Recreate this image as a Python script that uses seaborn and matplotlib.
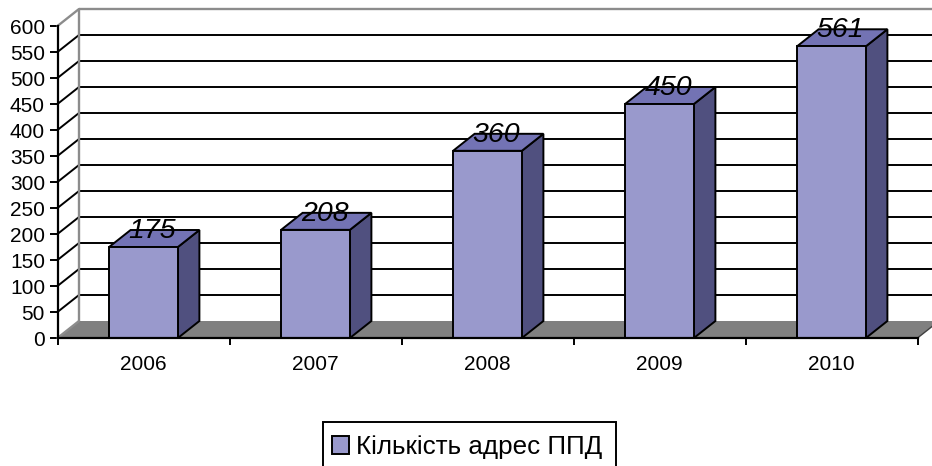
import matplotlib
matplotlib.use("Agg")
import matplotlib.pyplot as plt
import pandas as pd
import seaborn as sns
from matplotlib.patches import Polygon, Rectangle
from matplotlib.transforms import Affine2D

years = ["2006", "2007", "2008", "2009", "2010"]
values = [175, 208, 360, 450, 561]
series_name = "Кількість адрес ППД"
y_ticks = list(range(0, 601, 50))

FRONT = "#9999CC"
TOP = "#7373B4"
SIDE = "#50507F"
FLOOR = "#808080"
WALL = "#8C8C8C"
INK = "#000000"
DX, DY = 21.5, 17  # depth of the pseudo-3D box, in pixels
LW = 1.4

sns.set_theme(style="white")
plt.rcParams["font.family"] = ["Liberation Sans", "DejaVu Sans"]

W, H = 932, 466
fig = plt.figure(figsize=(W / 100, H / 100), dpi=100, facecolor="white")
ax = fig.add_axes([57.5 / W, (H - 338) / H, 860 / W, 312 / H])
ax.patch.set_visible(False)

df = pd.DataFrame({"year": years, "value": values})
sns.barplot(data=df, x="year", y="value", order=years, color=FRONT, saturation=1,
            width=0.4, edgecolor=INK, linewidth=LW, label=series_name, ax=ax, zorder=6)

ax.set_xlim(-0.5, len(years) - 0.5)
ax.set_ylim(0, 600)
ax.set_xlabel("")
ax.set_ylabel("")

data = ax.transData
back = data + Affine2D().translate(DX, DY)
x0, x1 = ax.get_xlim()


def seg(xs, ys, trans, color, z, lw=LW):
    ax.plot(xs, ys, transform=trans, color=color, lw=lw, clip_on=False, zorder=z,
            solid_capstyle="butt")


to_disp = lambda x, y, shift=False: (back if shift else data).transform((x, y))
floor = [to_disp(x0, 0), to_disp(x1, 0), to_disp(x1, 0, True), to_disp(x0, 0, True)]
ax.add_patch(Polygon(floor, closed=True, transform=None, facecolor=FLOOR, edgecolor="none",
                     clip_on=False, zorder=1))

for v in y_ticks[1:-1]:
    seg([x0, x1], [v, v], back, INK, 2)
    a, b = to_disp(x0, v), to_disp(x0, v, True)
    ax.plot([a[0], b[0]], [a[1], b[1]], transform=None, color=INK, lw=LW, clip_on=False, zorder=2)
seg([x0, x1], [600, 600], back, WALL, 2.5, 1.7)
seg([x0, x0], [0, 600], back, WALL, 2.5, 1.7)
for v in (0, 600):
    a, b = to_disp(x0, v), to_disp(x0, v, True)
    ax.plot([a[0], b[0]], [a[1], b[1]], transform=None, color=WALL, lw=1.7, clip_on=False, zorder=2.5)
a, b = to_disp(x1, 0), to_disp(x1, 0, True)
ax.plot([a[0], b[0]], [a[1], b[1]], transform=None, color="#404040", lw=1, clip_on=False, zorder=2.5)

for patch, val in zip(ax.patches, values):
    l, r = patch.get_x(), patch.get_x() + patch.get_width()
    side = [to_disp(r, 0), to_disp(r, val), to_disp(r, val, True), to_disp(r, 0, True)]
    top = [to_disp(l, val), to_disp(r, val), to_disp(r, val, True), to_disp(l, val, True)]
    ax.add_patch(Polygon(side, closed=True, transform=None, facecolor=SIDE, edgecolor=INK,
                         lw=LW, clip_on=False, zorder=5))
    ax.add_patch(Polygon(top, closed=True, transform=None, facecolor=TOP, edgecolor=INK,
                         lw=LW, clip_on=False, zorder=5))
    ax.annotate(str(val), xy=((l + r) / 2, val), xytext=(9, 16), textcoords="offset pixels",
                ha="center", va="center", fontsize=20.5, style="italic", color=INK, zorder=8)

for name in ("top", "right"):
    ax.spines[name].set_visible(False)
for name in ("left", "bottom"):
    ax.spines[name].set_color(INK)
    ax.spines[name].set_linewidth(LW + 0.2)
    ax.spines[name].set_zorder(7)
ax.set_yticks(y_ticks)
ax.set_xticks([i - 0.5 for i in range(len(years) + 1)], minor=True)
ax.tick_params(axis="x", which="minor", bottom=True, length=5, width=LW, color=INK)
ax.tick_params(axis="x", which="major", bottom=False, pad=6, labelsize=15, labelcolor=INK)
ax.tick_params(axis="y", left=True, length=6, width=LW, color=INK, pad=3, labelsize=15, labelcolor=INK)

handles, labels = ax.get_legend_handles_labels()
leg = ax.legend(handles, labels, loc="center", bbox_to_anchor=(467.5 / W, (H - 447) / H),
                bbox_transform=fig.transFigure, fontsize=18.7, frameon=False,
                labelcolor=INK, handlelength=0.65, handleheight=0.65,
                handletextpad=0.27, borderpad=0, borderaxespad=0)
fig.add_artist(Rectangle((323 / W, -6 / H), 292.5 / W, (H - 422 + 6) / H, transform=fig.transFigure,
                         facecolor="none", edgecolor=INK, lw=LW, zorder=10))

fig.savefig("out.png", dpi=100)
